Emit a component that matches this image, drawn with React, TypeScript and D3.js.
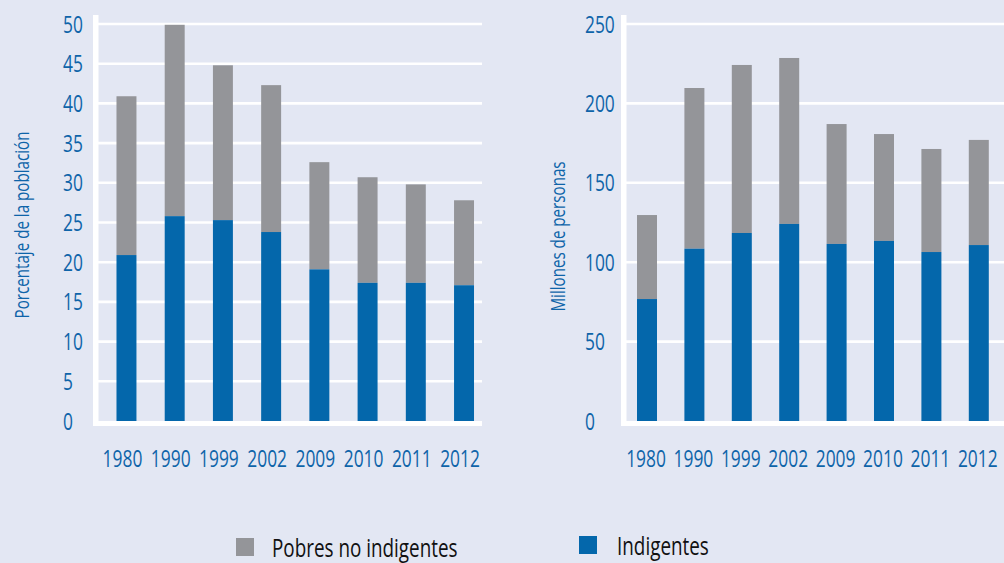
import React, { useEffect } from "react";
import * as d3 from "d3";

const years = ["1980", "1990", "1999", "2002", "2009", "2010", "2011", "2012"];
const pctTotal = [40.9, 49.9, 44.8, 42.3, 32.6, 30.7, 29.8, 27.8];
const pctIndig = [20.9, 25.8, 25.3, 23.8, 19.1, 17.4, 17.4, 17.1];
const milTotal = [129.7, 209.7, 224.2, 228.6, 187.0, 180.7, 171.3, 177.0];
const milIndig = [76.8, 108.5, 118.4, 124.1, 111.5, 113.4, 106.4, 110.8];
const pctTicks = [0, 5, 10, 15, 20, 25, 30, 35, 40, 45, 50];
const milTicks = [0, 50, 100, 150, 200, 250];
const legendLabels = ["Pobres no indigentes", "Indigentes"];
const titles = ["Porcentaje de la población", "Millones de personas"];

const BG = "#e3e7f3";
const GRAY = "#949599";
const BLUE = "#0467ab";
const TXT = "#0e64a9";
const FONT = "'Open Sans', 'Noto Sans', sans-serif";
const SX = 0.74;

function CText(props: {
  x: number;
  y: number;
  size: number;
  fill: string;
  anchor?: string;
  rotate?: number;
  children: React.ReactNode;
}) {
  const { x, y, size, fill, anchor = "start", rotate = 0, children } = props;
  return (
    <g transform={`translate(${x},${y}) rotate(${rotate}) scale(${SX},1)`}>
      <text x={0} y={0} textAnchor={anchor} fill={fill} fontSize={size} fontFamily={FONT}>
        {children}
      </text>
    </g>
  );
}

type PanelProps = {
  total: number[];
  indig: number[];
  ticks: number[];
  max: number;
  title: string;
  axisX: number;
  gridRight: number;
  band: [number, number];
  pInner: number;
  pOuter: number;
  labelX: number;
  titleX: number;
  titleY: number;
  labelDx: number;
};

function Panel(p: PanelProps) {
  const y = d3.scaleLinear().domain([0, p.max]).range([421, 24]);
  const x = d3
    .scaleBand<string>()
    .domain(years)
    .range(p.band)
    .paddingInner(p.pInner)
    .paddingOuter(p.pOuter);
  const plotLeft = p.axisX + 5;
  return (
    <g>
      {p.ticks
        .filter((t) => t > 0)
        .map((t) => (
          <line
            key={"g" + t}
            x1={plotLeft}
            x2={p.gridRight}
            y1={y(t)}
            y2={y(t)}
            stroke="#ffffff"
            strokeWidth={2.6}
          />
        ))}
      {years.map((yr, i) => (
        <g key={yr}>
          <rect
            x={x(yr)}
            width={x.bandwidth()}
            y={y(p.total[i])}
            height={y(p.indig[i]) - y(p.total[i])}
            fill={GRAY}
          />
          <rect
            x={x(yr)}
            width={x.bandwidth()}
            y={y(p.indig[i])}
            height={y(0) - y(p.indig[i])}
            fill={BLUE}
          />
        </g>
      ))}
      <rect x={p.axisX} y={15} width={5.5} height={411} fill="#ffffff" />
      <rect x={p.axisX} y={y(0)} width={p.gridRight - p.axisX} height={5} fill="#ffffff" />
      {p.ticks.map((t) => (
        <CText key={"t" + t} x={p.labelX} y={y(t) + 8.5} size={23.5} fill={TXT}>
          {t}
        </CText>
      ))}
      {years.map((yr) => (
        <CText
          key={"x" + yr}
          x={(x(yr) as number) + x.bandwidth() / 2 + p.labelDx}
          y={467}
          size={23.5}
          fill={TXT}
          anchor="middle"
        >
          {yr}
        </CText>
      ))}
      <CText x={p.titleX} y={p.titleY} size={20.5} fill={TXT} anchor="middle" rotate={-90}>
        {p.title}
      </CText>
    </g>
  );
}

export default function App() {
  useEffect(() => {
    document.body.style.margin = "0";
    document.body.style.background = BG;
  }, []);
  return (
    <svg
      width={1004}
      height={563}
      style={{ display: "block", position: "absolute", left: 0, top: 0 }}
    >
      <rect x={0} y={0} width={1004} height={563} fill={BG} />
      <Panel
        total={pctTotal}
        indig={pctIndig}
        ticks={pctTicks}
        max={50}
        title={titles[0]}
        axisX={93}
        gridRight={482}
        band={[98.5, 492]}
        pInner={0.586}
        pOuter={0.373}
        labelX={63}
        titleX={29}
        titleY={225}
        labelDx={-4}
      />
      <Panel
        total={milTotal}
        indig={milIndig}
        ticks={milTicks}
        max={250}
        title={titles[1]}
        axisX={621}
        gridRight={1004}
        band={[627, 998.8]}
        pInner={0.578}
        pOuter={0.211}
        labelX={585}
        titleX={565}
        titleY={236.5}
        labelDx={-1}
      />
      <rect x={236} y={538} width={18} height={18} fill={GRAY} />
      <CText x={272} y={556.5} size={25.5} fill="#111111">
        {legendLabels[0]}
      </CText>
      <rect x={579} y={536} width={18} height={18} fill={BLUE} />
      <CText x={617} y={555} size={25.5} fill="#111111">
        {legendLabels[1]}
      </CText>
    </svg>
  );
}
